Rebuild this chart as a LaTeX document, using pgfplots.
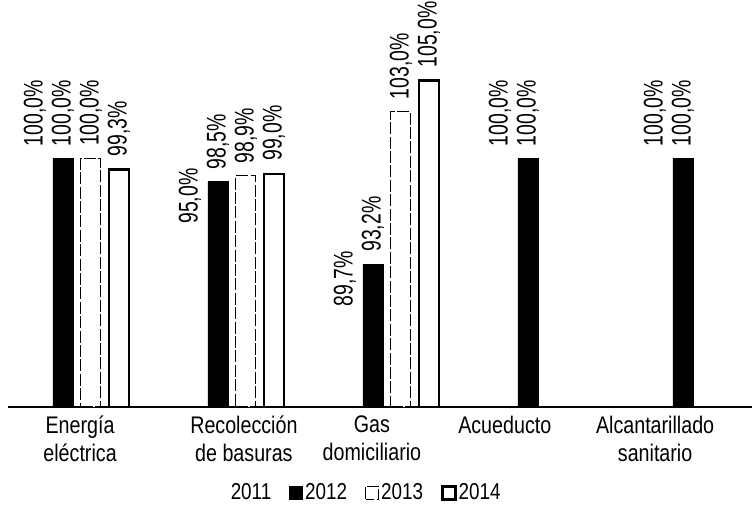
\documentclass[border=0pt]{standalone}
\usepackage{fontspec}
\setmainfont{Liberation Sans}[FakeStretch=0.82]
\newfontfamily\labfont{Liberation Sans}[FakeStretch=0.72]
\usepackage{pgfplots}
\pgfplotsset{compat=1.18}
\pgfplotsset{sqlegend/.style={legend image code/.code={\path[##1] (0pt,-3.25pt) rectangle (6.5pt,3.25pt);}}}
\begin{document}
\begin{tikzpicture}
\begin{axis}[
 scale only axis, width=372pt, height=203.5pt,
 xmin=-0.445, xmax=4.355, ymin=84, ymax=110.2,
 axis x line*=bottom, axis y line=none,
 axis line style={line width=0.9pt},
 ybar=4pt, bar width=10pt,
 xtick={0.02,1.077,1.903,2.76,3.73},
 xticklabels={{Energía\\eléctrica},{Recolección\\de basuras},{Gas\\domiciliario},{Acueducto},{Alcantarillado\\sanitario}},
 xticklabel style={align=center, font=\fontsize{12}{14}\selectfont, yshift=-1pt},
 major tick length=0pt,
 nodes near coords={\pgfmathprintnumber[fixed,fixed zerofill,precision=1,use comma,assume math mode=true]{\pgfplotspointmeta}\%},
 every node near coord/.append style={rotate=90, anchor=west, font=\labfont\fontsize{13.5}{13.5}\selectfont, inner xsep=6pt, inner ysep=0pt, text=black, fill=none, solid},
 legend columns=4,
 legend style={at={(axis description cs:0.472,-0.211)}, anchor=center, draw=none, fill=none, font=\fontsize{11.5}{12}\selectfont, nodes={inner xsep=1pt}, /tikz/every even column/.append style={column sep=8pt}},
]
\addplot[draw=none, fill=none, sqlegend] coordinates {(0,100) (1,95) (2,89.7) (3,100) (4,100)};
\addplot[draw=black, fill=black, sqlegend] coordinates {(0,100) (1,98.5) (2,93.2) (3,100) (4,100)};
\addplot[draw=black, fill=white, dash pattern=on 6pt off 1.2pt, line width=0.5pt, sqlegend] coordinates {(0,100) (1,98.9) (2,103)};
\addplot[draw=black, fill=white, line width=1.3pt, sqlegend] coordinates {(0,99.3) (1,99) (2,105)};
\legend{2011,2012,2013,2014}
\end{axis}
\pgfresetboundingbox
\path (-4pt,-53.5pt) rectangle (372pt,203.5pt);
\end{tikzpicture}
\end{document}
